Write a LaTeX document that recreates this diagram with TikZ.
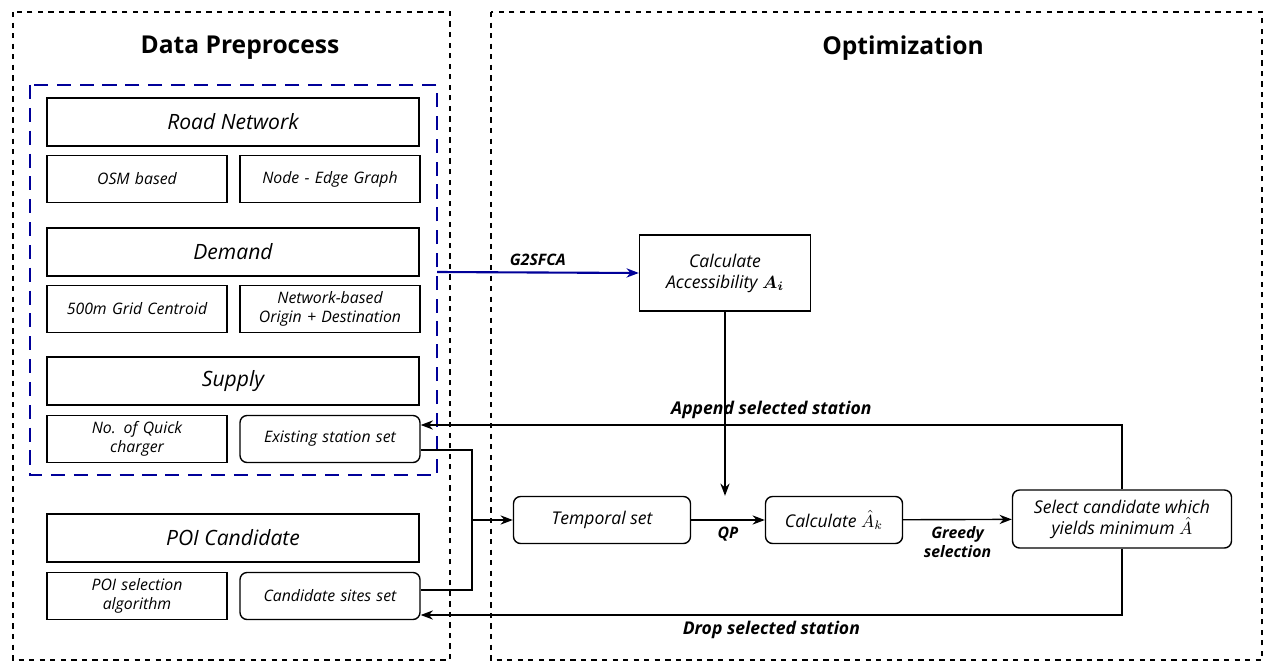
\documentclass[tikz,border=0pt]{standalone}
\usepackage{amsmath}
\usepackage{fontspec}
\setmainfont{Open Sans}
\usetikzlibrary{arrows.meta}
\begin{document}
\begin{tikzpicture}
	[x=0.02cm,y=-0.02cm,
	head/.style={draw,thick,minimum width=7.44cm,minimum height=0.96cm,inner sep=0pt,font=\large\itshape},
	cell/.style={draw,thick,minimum width=3.6cm,minimum height=0.94cm,inner sep=0pt,align=center,font=\small\itshape,text width=3.4cm},
	rcell/.style={cell,rounded corners=4pt},
	stage/.style={draw,thick,rounded corners=4pt,minimum height=0.94cm,inner sep=0pt,align=center,font=\itshape},
	link/.style={thick,-{Stealth[length=7pt]}},
	frame/.style={dashed,thick}]
	\useasboundingbox (0,0) rectangle (1275,669);
	\draw[frame] (13,12) rectangle (450,660);
	\draw[frame] (491,12) rectangle (1262,660);
	\draw[dashed,very thick,blue!60!black,dash pattern=on 8pt off 5pt] (30,85) rectangle (437,475);
	\node at (240,48) {\fontsize{14}{16}\selectfont\bfseries Data Preprocess};
	\node at (903,48) {\fontsize{14}{16}\selectfont\bfseries Optimization};
	% left column
	\node[head] (road) at (233,122) {Road Network};
	\node[cell] (osm) at (137,179) {OSM based};
	\node[cell] (graph) at (330,179) {Node - Edge Graph};
	\node[head] (demand) at (233,252) {Demand};
	\node[cell] (grid) at (137,309) {500m Grid Centroid};
	\node[cell] (od) at (330,309) {Network-based\\Origin + Destination};
	\node[head] (supply) at (233,381) {Supply};
	\node[cell] (quick) at (137,439) {No. of Quick\\charger};
	\node[rcell] (exist) at (330,439) {Existing station set};
	\node[head] (poi) at (233,538) {POI Candidate};
	\node[cell] (algo) at (137,596) {POI selection\\algorithm};
	\node[rcell] (cand) at (330,596) {Candidate sites set};
	% right column
	\node[draw,thick,minimum width=3.42cm,minimum height=1.52cm,align=center,inner sep=0pt] (acc) at (725,273)
		{\itshape Calculate\\\itshape Accessibility $\boldsymbol{A_i}$};
	\node[stage,minimum width=3.54cm] (temp) at (602,520) {Temporal set};
	\node[stage,minimum width=2.74cm] (calc) at (834,520) {Calculate $\hat{A}_k$};
	\node[stage,minimum width=4.38cm,minimum height=1.16cm] (sel) at (1122,519) {Select candidate which\\yields minimum $\hat{A}$};
	\coordinate (mid) at (472,520);
	% connectors
	\draw[link,blue!60!black,very thick] (437,272) -- node[above,black,font=\small\itshape\bfseries] {G2SFCA} (acc.west);
	\draw[link] (acc.south) -- (acc.south |- temp.north);
	\draw[link] (temp) -- node[below,font=\small\itshape\bfseries] {QP} (calc);
	\draw[link] (calc) -- node[below,align=center,font=\small\itshape\bfseries] {Greedy\\selection} (sel);
	\draw[link] (sel.north) |- node[pos=0.75,above,font=\itshape\bfseries] {Append selected station} (exist.east |- 0,425);
	\draw[link] (sel.south) |- node[pos=0.75,below,font=\itshape\bfseries] {Drop selected station} (cand.east |- 0,615);
	\draw[thick] (exist.east |- 0,450) -| (mid);
	\draw[thick] (cand.east |- 0,590) -| (mid);
	\draw[link] (mid) -- (temp);
\end{tikzpicture}
\end{document}
